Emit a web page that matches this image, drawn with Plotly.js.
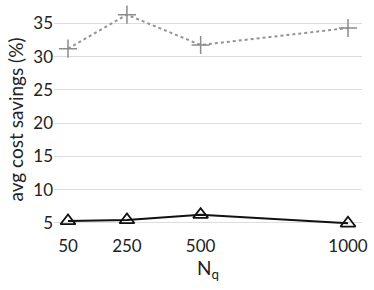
<!DOCTYPE html>
<html>
<head>
<meta charset="utf-8">
<script src="https://cdn.plot.ly/plotly-3.0.1.min.js"></script>
<style>html,body{margin:0;padding:0;background:#fff;}#chart{width:374px;height:290px;}</style>
</head>
<body>
<div id="chart"></div>
<script>
const nq = [50, 250, 500, 1000];
const tickLabels = ["50", "250", "500", "1000"];
const seriesUpper = [31.2, 36.3, 31.75, 34.3];
const seriesLower = [5.3, 5.45, 6.25, 4.95];
const yTicks = [5, 10, 15, 20, 25, 30, 35];

const traces = [
  {
    x: nq, y: seriesUpper, type: 'scatter', mode: 'lines+markers',
    line: {color: '#939393', width: 2, dash: 'dot'},
    marker: {symbol: 'cross-thin-open', size: 13, color: '#8c8c8c', line: {color: '#8c8c8c', width: 1.5}},
    showlegend: false
  },
  {
    x: nq, y: seriesLower, type: 'scatter', mode: 'lines+markers',
    line: {color: '#111111', width: 2},
    marker: {symbol: 'triangle-up-open', size: 13, color: '#111111', line: {color: '#111111', width: 1.8}},
    showlegend: false
  }
];

const layout = {
  width: 374, height: 290,
  margin: {l: 54, r: 12, t: 5, b: 56},
  paper_bgcolor: '#fff', plot_bgcolor: '#fff',
  font: {family: 'Lato, sans-serif', size: 17, color: '#222'},
  xaxis: {
    range: [2.5, 1047.5],
    tickvals: nq, ticktext: tickLabels,
    showgrid: false, zeroline: false, showline: false,
    ticks: '', ticklen: 0,
    title: {text: 'N<sub>q</sub>', standoff: 2, font: {size: 19}}
  },
  yaxis: {
    range: [3.34, 37.76],
    tickvals: yTicks,
    showgrid: true, gridcolor: '#dddddd', gridwidth: 1,
    zeroline: false, showline: false, ticks: '',
    title: {text: 'avg cost savings (%)', standoff: 4, font: {size: 19}}
  }
};

Plotly.newPlot('chart', traces, layout, {staticPlot: true, displayModeBar: false});
</script>
</body>
</html>
